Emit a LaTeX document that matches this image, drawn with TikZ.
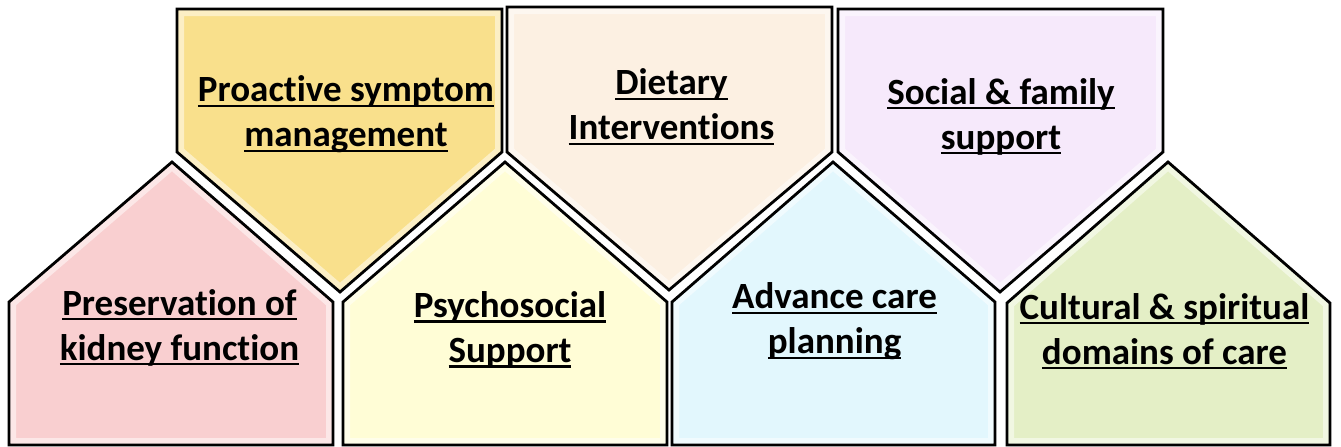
\documentclass[tikz,border=0pt]{standalone}
\usepackage{fontspec}
\setmainfont[Ligatures=NoCommon]{Carlito}
\usepackage{tikz}

\definecolor{pinkfill}{RGB}{249,207,208}
\definecolor{goldfill}{RGB}{249,224,140}
\definecolor{creamfill}{RGB}{255,253,214}
\definecolor{peachfill}{RGB}{252,240,226}
\definecolor{bluefill}{RGB}{226,247,253}
\definecolor{lilacfill}{RGB}{246,233,251}
\definecolor{greenfill}{RGB}{228,239,198}

% underlined line of a label
\newcommand{\ulbox}[1]{\setbox0\hbox{#1}\rlap{\rule[-5pt]{\wd0}{2.2pt}}\box0}
% filled panel with a light inner rim and a black outline
\newcommand{\panel}[2]{%
	\begin{scope}
		\clip #2;
		\fill[#1] #2;
		\draw[line width=14pt,white,opacity=.5] #2;
	\end{scope}
	\draw[outline] #2;}

\begin{document}
\begin{tikzpicture}[x=1pt,y=-1pt,
	outline/.style={draw=black,line width=2.8pt,line join=miter},
	label/.style={align=center,inner sep=0pt,font=\fontsize{37}{45}\selectfont\bfseries}]
	\useasboundingbox (0,0) rectangle (1341,447);
	
	% upper row, pointing down
	\panel{goldfill}{(177,9) -- (502,9) -- (502,152) -- (340,292) -- (177,152) -- cycle}
	\panel{peachfill}{(507,7) -- (832,7) -- (832,152) -- (669,290) -- (507,152) -- cycle}
	\panel{lilacfill}{(838,9) -- (1163,9) -- (1163,152) -- (1000,292) -- (838,152) -- cycle}
	
	% lower row, pointing up
	\panel{pinkfill}{(9,445) -- (9,302) -- (172,162) -- (333,302) -- (333,445) -- cycle}
	\panel{creamfill}{(343,445) -- (343,302) -- (505,162) -- (667,302) -- (667,445) -- cycle}
	\panel{bluefill}{(672,445) -- (672,302) -- (833,162) -- (995,302) -- (995,445) -- cycle}
	\panel{greenfill}{(1007,445) -- (1007,303) -- (1168,162) -- (1330,303) -- (1330,445) -- cycle}
	
	\node[label] (symptom) at (346,114.5) {\ulbox{Proactive symptom}\\\ulbox{management}};
	\node[label] (diet) at (671.5,107) {\ulbox{Dietary}\\\ulbox{Interventions}};
	\node[label] (social) at (1001,116.5) {\ulbox{Social \& family}\\\ulbox{support}};
	\node[label] (kidney) at (179.5,327.5) {\ulbox{Preservation of}\\\ulbox{kidney function}};
	\node[label] (psycho) at (510,330) {\ulbox{Psychosocial}\\\ulbox{Support}};
	\node[label] (advance) at (834.5,321.5) {\ulbox{Advance care}\\\ulbox{planning}};
	\node[label] (culture) at (1164.5,331.5) {\ulbox{Cultural \& spiritual}\\\ulbox{domains of care}};
\end{tikzpicture}
\end{document}
